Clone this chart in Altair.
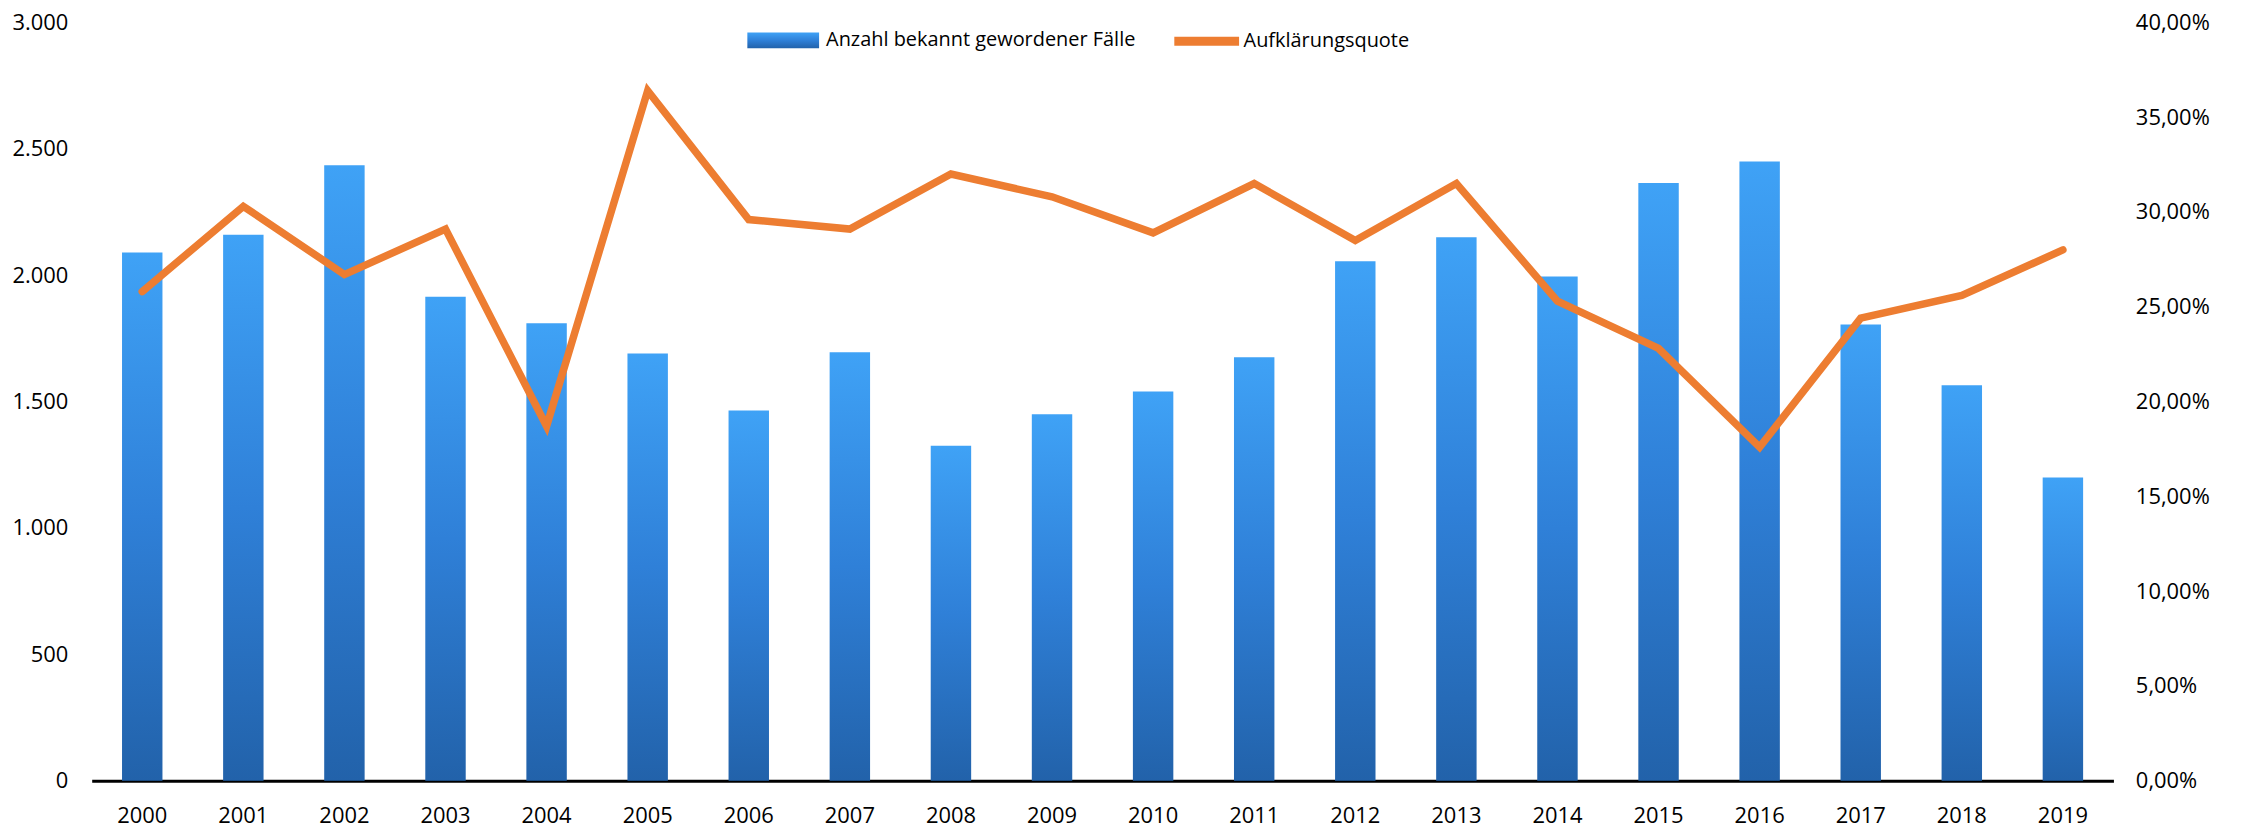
import altair as alt
import pandas as pd

years = [str(y) for y in range(2000, 2020)]
cases = [2090, 2160, 2435, 1915, 1810, 1690, 1465, 1695, 1325, 1450,
         1540, 1675, 2055, 2150, 1995, 2365, 2450, 1805, 1565, 1200]
rate_pct = [25.8, 30.3, 26.7, 29.1, 18.7, 36.4, 29.6, 29.1, 32.0, 30.8,
            28.9, 31.5, 28.5, 31.5, 25.3, 22.8, 17.6, 24.4, 25.6, 28.0]
left_ticks = [0, 500, 1000, 1500, 2000, 2500, 3000]
right_ticks = [0, 0.05, 0.10, 0.15, 0.20, 0.25, 0.30, 0.35, 0.40]
bar_name = "Anzahl bekannt gewordener Fälle"
line_name = "Aufklärungsquote"

df = pd.DataFrame({
    "Jahr": years,
    "Faelle": cases,
    "Quote": [r / 100 for r in rate_pct],
    "s1": [bar_name] * len(years),
    "s2": [line_name] * len(years),
})

FONT = "Open Sans"
FS = 22
LFS = 20

x = alt.X("Jahr:N", sort=years,
          scale=alt.Scale(paddingInner=0.6, paddingOuter=0.3),
          axis=alt.Axis(title=None, labelAngle=0, ticks=False, grid=False,
                        domainColor="black", domainWidth=3, labelPadding=25,
                        labelFontSize=FS, labelFont=FONT, labelColor="black"))

grad = alt.Gradient(gradient="linear",
                    stops=[alt.GradientStop(color="#3FA2F6", offset=0),
                           alt.GradientStop(color="#2F80D8", offset=0.5),
                           alt.GradientStop(color="#2262AA", offset=1)],
                    x1=0, x2=0, y1=0, y2=1)

bars = alt.Chart(df).mark_bar(color=grad).encode(
    x=x,
    y=alt.Y("Faelle:Q", scale=alt.Scale(domain=[0, 3000]),
            axis=alt.Axis(title=None, values=left_ticks, orient="left",
                          ticks=False, domain=False, grid=False, labelPadding=24,
                          labelFontSize=FS, labelFont=FONT, labelColor="black",
                          labelExpr="replace(format(datum.value, ','), ',', '.')")),
    opacity=alt.Opacity("s1:N", scale=alt.Scale(domain=[bar_name], range=[1]),
                        legend=alt.Legend(title=None, orient="none", legendX=658, legendY=-18,
                                          symbolType="M-1,-0.22H1V0.22H-1Z",
                                          symbolSize=5184, symbolFillColor="#2C78CC",
                                          symbolStrokeWidth=0, symbolOpacity=1,
                                          labelOffset=7, padding=0, labelLimit=1000,
                                          labelFontSize=LFS, labelFont=FONT, labelColor="black")),
)

line = alt.Chart(df).mark_line(strokeWidth=7.5, strokeJoin="miter", strokeCap="round").encode(
    x=x,
    y=alt.Y("Quote:Q", scale=alt.Scale(domain=[0, 0.4]),
            axis=alt.Axis(title=None, values=right_ticks, orient="right",
                          ticks=False, domain=False, grid=False, labelPadding=22,
                          labelFontSize=FS, labelFont=FONT, labelColor="black",
                          labelExpr="replace(format(datum.value, '.2%'), '.', ',')")),
    stroke=alt.Stroke("s2:N", scale=alt.Scale(domain=[line_name], range=["#ED7D31"]),
                      legend=alt.Legend(title=None, orient="none", legendX=1082, legendY=-18,
                                        symbolType="stroke", symbolSize=4225,
                                        symbolStrokeWidth=9, symbolStrokeColor="#ED7D31",
                                        labelOffset=0, padding=0, labelLimit=1000,
                                        labelFontSize=LFS, labelFont=FONT, labelColor="black")),
)

chart = alt.layer(bars, line).resolve_scale(y="independent").properties(
    width=2029, height=761,
    padding={"left": 84, "top": 13, "right": 123, "bottom": 46},
    autosize=alt.AutoSizeParams(type="none"),
).configure_view(stroke=None)

chart.save("out.html", embed_options={"renderer": "svg", "actions": False})
